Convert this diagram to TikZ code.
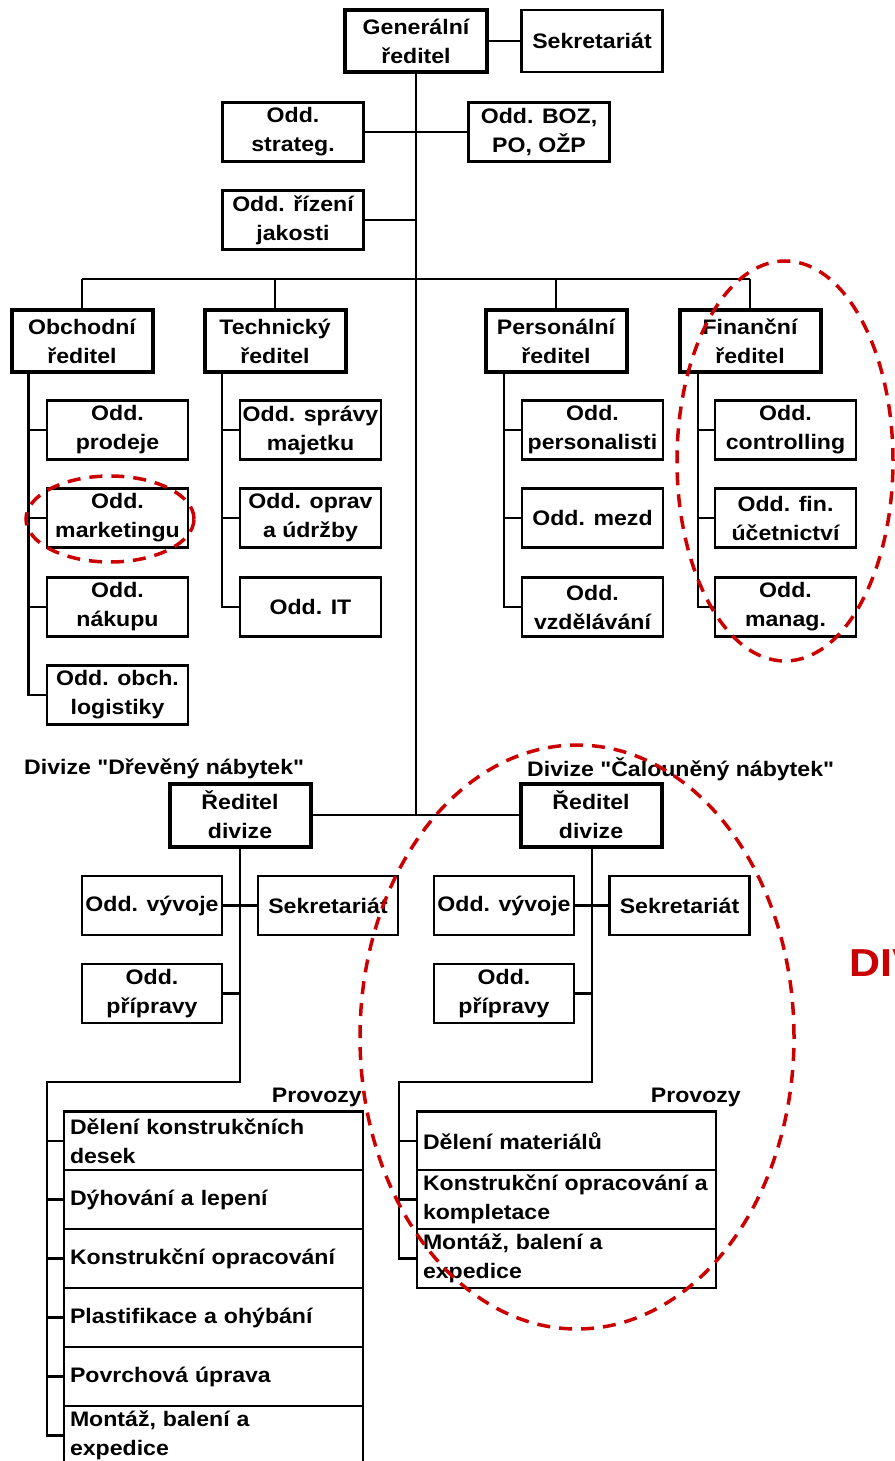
\documentclass[tikz,border=0pt]{standalone}
\usepackage{fontspec}
\setmainfont{Liberation Sans}[FakeStretch=1.1,Ligatures=TeXOff]
\definecolor{dred}{RGB}{204,0,0}
\begin{document}
\begin{tikzpicture}[x=1pt,y=-1pt,
  txt/.style={font=\fontsize{21}{29}\selectfont\bfseries},
  box/.style={txt,draw,fill=white,line width=2.4pt,minimum width=141pt,minimum height=59pt,inner sep=0pt,align=center},
  dirbox/.style={box,line width=4pt,minimum height=62pt},
  provbox/.style={txt,draw,fill=white,line width=2.4pt,minimum width=299pt,minimum height=59pt,inner xsep=6pt,inner ysep=0pt,text width=287pt,align=left},
  conn/.style={line width=2.2pt},
  redmark/.style={draw=dred,line width=3.5pt,dash pattern=on 13pt off 9pt}
]
\useasboundingbox (0,0) rectangle (894,1461);

% top level
\node[dirbox,minimum width=142pt] (gen) at (416,41) {Generální\\ředitel};
\node[box,minimum height=62pt] (sek0) at (592,41) {Sekretariát};
\node[box] (strat) at (293,132) {Odd.\\strateg.};
\node[box] (boz) at (539,132) {Odd. BOZ,\\PO, OŽP};
\node[box] (jak) at (293,220) {Odd. řízení\\jakosti};

% directors
\node[dirbox] (obch) at (82,341) {Obchodní\\ředitel};
\node[dirbox] (tech) at (275,341) {Technický\\ředitel};
\node[dirbox] (pers) at (556,341) {Personální\\ředitel};
\node[dirbox] (fin) at (750,341) {Finanční\\ředitel};

% obchodni column
\node[box] (o1) at (117.5,430) {Odd.\\prodeje};
\node[box] (o2) at (117.5,518) {Odd.\\marketingu};
\node[box] (o3) at (117.5,607) {Odd.\\nákupu};
\node[box] (o4) at (117.5,695) {Odd. obch.\\logistiky};
% technicky column
\node[box] (t1) at (310.5,430) {Odd. správy\\majetku};
\node[box] (t2) at (310.5,518) {Odd. oprav\\a údržby};
\node[box] (t3) at (310.5,607) {Odd. IT};
% personalni column
\node[box] (p1) at (592.5,430) {Odd.\\personalisti};
\node[box] (p2) at (592.5,518) {Odd. mezd};
\node[box] (p3) at (592.5,607) {Odd.\\vzdělávání};
% financni column
\node[box] (f1) at (785.5,430) {Odd.\\controlling};
\node[box] (f2) at (785.5,518) {Odd. fin.\\účetnictví};
\node[box] (f3) at (785.5,607) {Odd.\\manag.};

% divisions
\node[txt,anchor=west,inner sep=0pt] (lblL) at (24,769) {Divize "Dřevěný nábytek"};
\node[txt,anchor=west,inner sep=0pt] (lblR) at (527,769) {Divize "Čalouněný nábytek"};
\node[dirbox,minimum height=63pt] (divL) at (240,815) {Ředitel\\divize};
\node[dirbox,minimum height=63pt] (divR) at (591,815) {Ředitel\\divize};

\node[box,minimum width=140pt] (vyvL) at (152,905.5) {Odd. vývoje};
\node[box,minimum width=140pt] (sekL) at (328,905.5) {Sekretariát};
\node[box,minimum width=140pt] (pripL) at (152,993.5) {Odd.\\přípravy};
\node[box,minimum width=140pt] (vyvR) at (504,905.5) {Odd. vývoje};
\node[box,minimum width=140pt] (sekR) at (679.5,905.5) {Sekretariát};
\node[box,minimum width=140pt] (pripR) at (504,993.5) {Odd.\\přípravy};

% provozy
\node[txt,anchor=east,inner sep=0pt] (provL) at (362,1097) {Provozy};
\node[txt,anchor=east,inner sep=0pt] (provR) at (741,1097) {Provozy};
\node[provbox] (l1) at (213.5,1141) {Dělení konstrukčních\\desek};
\node[provbox] (l2) at (213.5,1199.5) {Dýhování a lepení};
\node[provbox] (l3) at (213.5,1258.5) {Konstrukční opracování};
\node[provbox] (l4) at (213.5,1317.5) {Plastifikace a ohýbání};
\node[provbox] (l5) at (213.5,1376.5) {Povrchová úprava};
\node[provbox] (l6) at (213.5,1435.5) {Montáž, balení a\\expedice};
\node[provbox] (r1) at (566.5,1141) {Dělení materiálů};
\node[provbox] (r2) at (566.5,1199.5) {Konstrukční opracování a\\kompletace};
\node[provbox] (r3) at (566.5,1258.5) {Montáž, balení a\\expedice};

% connectors top
\coordinate (mainend) at (416,815);
\coordinate (jakj) at (416,220);
\coordinate (busL) at (82,279);
\coordinate (busR) at (750,279);
\draw[conn] (gen.east) -- (sek0.west);
\draw[conn] (gen.south) -- (mainend);
\draw[conn] (strat.east) -- (boz.west);
\draw[conn] (jak.east) -- (jakj);
\draw[conn] (busL) -- (busR);
\draw[conn] (busL) -- (obch.north);
\draw[conn] (tech.north |- busL) -- (tech.north);
\draw[conn] (pers.north |- busL) -- (pers.north);
\draw[conn] (busR) -- (fin.north);

% columns
\coordinate (oc) at (28.5,372);
\draw[conn] (oc) |- (o4.west);
\draw[conn] (oc) |- (o1.west);
\draw[conn] (oc) |- (o2.west);
\draw[conn] (oc) |- (o3.west);
\coordinate (tc) at (222,372);
\draw[conn] (tc) |- (t3.west);
\draw[conn] (tc) |- (t1.west);
\draw[conn] (tc) |- (t2.west);
\coordinate (pc) at (504,372);
\draw[conn] (pc) |- (p3.west);
\draw[conn] (pc) |- (p1.west);
\draw[conn] (pc) |- (p2.west);
\coordinate (fc) at (698,372);
\draw[conn] (fc) |- (f3.west);
\draw[conn] (fc) |- (f1.west);
\draw[conn] (fc) |- (f2.west);

% division connectors
\draw[conn] (divL.east) -- (divR.west);
\coordinate (dl) at (240,1082);
\coordinate (dlc) at (47,1082);
\draw[conn] (divL.south) -- (dl) -- (dlc) |- (l6.west);
\foreach \n in {l1,l2,l3,l4,l5} \draw[conn] (dlc) |- (\n.west);
\draw[conn] (vyvL.east) -- (sekL.west);
\draw[conn] (pripL.east) -- (pripL.east -| divL.south);
\coordinate (dr) at (592,1082);
\coordinate (drc) at (399,1082);
\draw[conn] (divR.south -| dr) -- (dr) -- (drc) |- (r3.west);
\foreach \n in {r1,r2} \draw[conn] (drc) |- (\n.west);
\draw[conn] (vyvR.east) -- (sekR.west);
\draw[conn] (pripR.east) -- (pripR.east -| dr);

% red marks
\draw[redmark] (110,519) ellipse [x radius=84pt, y radius=43pt];
\draw[redmark] (785,461) ellipse [x radius=108pt, y radius=200pt];
\draw[redmark] (577,1037) ellipse [x radius=217pt, y radius=292pt];
\node[anchor=west,inner sep=0pt,text=dred,font=\fontsize{39}{39}\selectfont\bfseries] (div) at (849,963) {DIV};
\end{tikzpicture}
\end{document}
